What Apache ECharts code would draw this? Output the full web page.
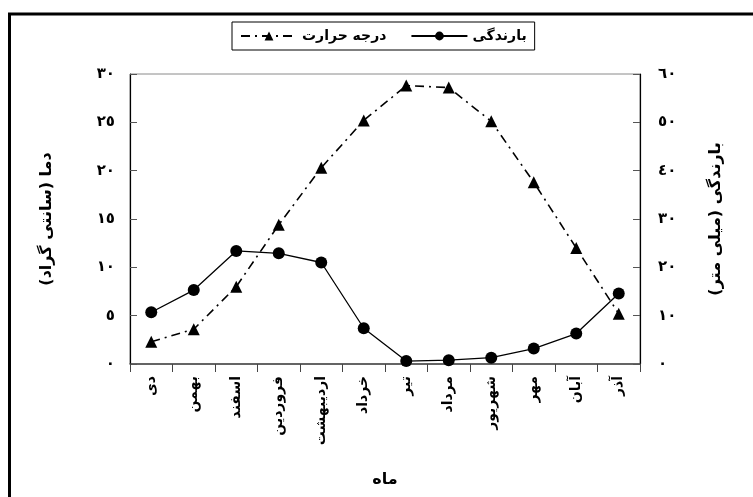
<!DOCTYPE html>
<html>
<head>
<meta charset="utf-8">
<script src="https://cdn.jsdelivr.net/npm/echarts@6/dist/echarts.min.js"></script>
<style>
html,body{margin:0;padding:0;background:#fff;}
#chart{width:753px;height:497px;}
</style>
</head>
<body>
<div id="chart"></div>
<script>
const months = ['دی','بهمن','اسفند','فروردین','اردیبهشت','خرداد','تیر','مرداد','شهریور','مهر','آبان','آذر'];
const temperature = [2.3, 3.6, 8.0, 14.4, 20.3, 25.2, 28.8, 28.6, 25.1, 18.8, 12.0, 5.2];
const precipitation = [10.7, 15.3, 23.4, 22.9, 21.0, 7.4, 0.6, 0.8, 1.3, 3.2, 6.3, 14.6];
const leftTickLabels = ['٠','٥','١٠','١٥','٢٠','٢٥','٣٠'];
const rightTickLabels = ['٠','١٠','٢٠','٣٠','٤٠','٥٠','٦٠'];
const tempName = 'درجه حرارت';
const precipName = 'بارندگی';
const leftAxisTitle = 'دما (سانتی گراد)\u200F';
const rightAxisTitle = 'بارندگی (میلی متر)\u200F';
const xAxisTitle = 'ماه';

const FONT = 'DejaVu Sans';
const chart = echarts.init(document.getElementById('chart'), null, {renderer:'canvas'});
chart.setOption({
  animation: false,
  backgroundColor: '#fff',
  textStyle: {fontFamily: FONT, color: '#000'},
  graphic: [{
    type: 'rect', z: -10, silent: true,
    shape: {x: 9.5, y: 14, width: 800, height: 600},
    style: {fill: 'none', stroke: '#000', lineWidth: 3}
  }],
  legend: {
    left: 232, top: 22,
    data: [tempName, precipName],
    itemWidth: 56, itemHeight: 11, itemGap: 24,
    padding: [7, 8],
    borderColor: '#000', borderWidth: 1,
    textStyle: {fontFamily: FONT, fontSize: 14, fontWeight: 'bold', color: '#000'}
  },
  grid: {left: 130, right: 113, top: 74, bottom: 133, show: true, borderColor: '#8a8a8a', borderWidth: 1},
  xAxis: {
    type: 'category', data: months, boundaryGap: true,
    name: xAxisTitle, nameLocation: 'middle', nameGap: 108,
    nameTextStyle: {fontFamily: FONT, fontSize: 16, fontWeight: 'bold', color: '#000'},
    axisLine: {lineStyle: {color: '#444', width: 1.5}},
    axisTick: {show: true, inside: false, length: 8, lineStyle: {color: '#444'}},
    axisLabel: {rotate: 90, margin: 12, fontFamily: FONT, fontSize: 14, fontWeight: 'bold', color: '#000', interval: 0},
    splitLine: {show: false}
  },
  yAxis: [{
    type: 'value', position: 'left', min: 0, max: 30, interval: 5,
    name: leftAxisTitle, nameLocation: 'middle', nameGap: 75, nameRotate: 90,
    nameTextStyle: {fontFamily: FONT, fontSize: 16, fontWeight: 'bold', color: '#000'},
    axisLine: {show: true, lineStyle: {color: '#000', width: 1.2}},
    axisTick: {show: true, inside: true, length: 7, lineStyle: {color: '#555'}},
    axisLabel: {margin: 15, fontFamily: FONT, fontSize: 15, fontWeight: 'bold', color: '#000',
      formatter: v => leftTickLabels[Math.round(v / 5)]},
    splitLine: {show: false}
  }, {
    type: 'value', position: 'right', min: 0, max: 60, interval: 10,
    name: rightAxisTitle, nameLocation: 'middle', nameGap: 68, nameRotate: 90,
    nameTextStyle: {fontFamily: FONT, fontSize: 16, fontWeight: 'bold', color: '#000'},
    axisLine: {show: true, lineStyle: {color: '#000', width: 1.2}},
    axisTick: {show: true, inside: true, length: 7, lineStyle: {color: '#555'}},
    axisLabel: {margin: 18, fontFamily: FONT, fontSize: 15, fontWeight: 'bold', color: '#000',
      formatter: v => rightTickLabels[Math.round(v / 10)]},
    splitLine: {show: false}
  }],
  series: [{
    name: tempName, type: 'line', yAxisIndex: 0, data: temperature,
    symbol: 'triangle', symbolSize: 12,
    lineStyle: {color: '#000', width: 1.6, type: [9, 5, 2, 5]},
    itemStyle: {color: '#000'}
  }, {
    name: precipName, type: 'line', yAxisIndex: 1, data: precipitation,
    symbol: 'circle', symbolSize: 12,
    lineStyle: {color: '#000', width: 1.3, type: 'solid'},
    itemStyle: {color: '#000'}
  }]
});
</script>
</body>
</html>
